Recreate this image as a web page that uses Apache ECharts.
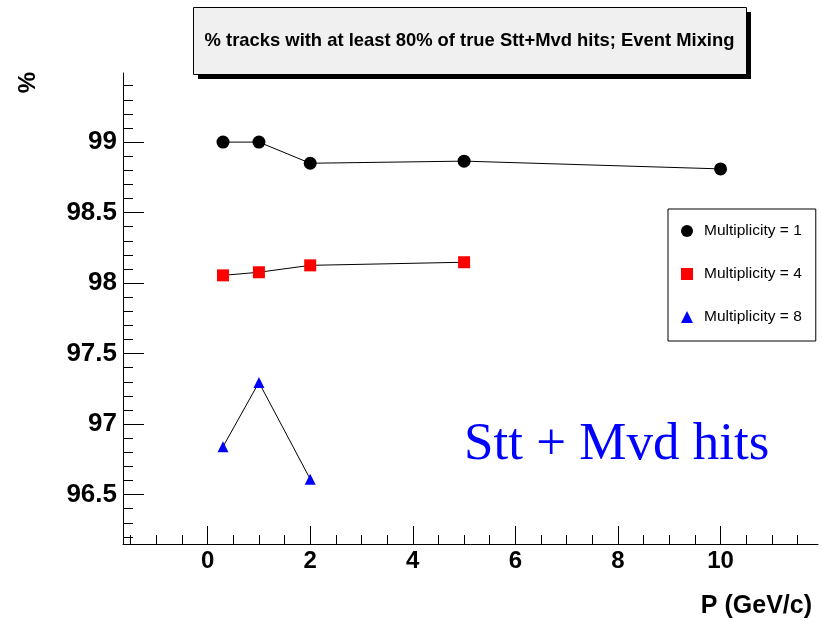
<!DOCTYPE html>
<html>
<head>
<meta charset="utf-8">
<script src="https://cdn.jsdelivr.net/npm/echarts@6/dist/echarts.min.js"></script>
<style>html,body{margin:0;padding:0;background:#fff}#c{width:822px;height:621px}</style>
</head>
<body>
<div id="c"></div>
<script>
// ---- data ----
const seriesNames = ['Multiplicity = 1', 'Multiplicity = 4', 'Multiplicity = 8'];
const pMult1 = [0.3, 1, 2, 5, 10];
const vMult1 = [99.0, 99.0, 98.85, 98.865, 98.81];
const pMult4 = [0.3, 1, 2, 5];
const vMult4 = [98.055, 98.077, 98.126, 98.148];
const pMult8 = [0.3, 1, 2];
const vMult8 = [96.84, 97.296, 96.61];
const xTicks = [0, 2, 4, 6, 8, 10];
const yTicks = [96.5, 97, 97.5, 98, 98.5, 99];
const titleText = '% tracks with at least 80% of true Stt+Mvd hits; Event Mixing';
const xName = 'P (GeV/c)';
const yName = '%';
const annot = 'Stt + Mvd hits';

const xMin = -1.65, xMax = 11.9, yMin = 96.15, yMax = 99.49;
const xMinor = []; for (let v = -1.5; v <= 11.5 + 1e-9; v += 0.5) xMinor.push(+v.toFixed(2));
const yMinor = []; for (let v = 96.2; v <= 99.4 + 1e-9; v += 0.1) yMinor.push(+v.toFixed(2));

const pairs = (xs, ys) => xs.map((x, i) => [x, ys[i]]);
const font = 'Liberation Sans, Arial, Helvetica, sans-serif';

const chart = echarts.init(document.getElementById('c'), null, {renderer: 'canvas'});
const lineSt = {color: '#000', width: 1};
chart.setOption({
  animation: false,
  backgroundColor: '#fff',
  grid: {left: 123, right: 4, top: 73, bottom: 77, containLabel: false},
  title: [{
    text: titleText, left: 469.5, textAlign: 'center', top: 31, padding: 0, z: 10,
    textStyle: {fontFamily: font, fontWeight: 'bold', fontSize: 18.4, lineHeight: 19, color: '#000'}
  }, {
    text: annot, left: 464, top: 419, padding: 0,
    textStyle: {fontFamily: 'Liberation Serif, Times New Roman, serif', fontWeight: 'normal', fontSize: 53, color: '#0000ff'}
  }],
  legend: {
    orient: 'vertical', left: 668, top: 209,
    padding: [14, 14, 16, 13], itemGap: 27,
    itemWidth: 12, itemHeight: 12,
    backgroundColor: '#fff', borderColor: '#000', borderWidth: 1,
    textStyle: {fontFamily: font, fontSize: 15.5, color: '#000', padding: [0, 0, 0, 6], lineHeight: 16},
    data: [
      {name: seriesNames[0], icon: 'circle'},
      {name: seriesNames[1], icon: 'rect'},
      {name: seriesNames[2], icon: 'triangle'}
    ]
  },
  xAxis: [
    {type: 'value', min: xMin, max: xMax, position: 'bottom', splitLine: {show: false},
     axisLine: {show: true, onZero: false, lineStyle: lineSt},
     axisTick: {show: true, inside: true, length: 18, customValues: xTicks, lineStyle: lineSt},
     axisLabel: {show: true, customValues: xTicks, margin: 5, fontFamily: font, fontWeight: 'bold', fontSize: 24, color: '#000'}},
    {type: 'value', min: xMin, max: xMax, position: 'bottom', splitLine: {show: false},
     axisLine: {show: false, onZero: false},
     axisTick: {show: true, inside: true, length: 9, customValues: xMinor, lineStyle: lineSt},
     axisLabel: {show: false}}
  ],
  yAxis: [
    {type: 'value', min: yMin, max: yMax, position: 'left', splitLine: {show: false},
     axisLine: {show: true, onZero: false, lineStyle: lineSt},
     axisTick: {show: true, inside: true, length: 21, customValues: yTicks, lineStyle: lineSt},
     axisLabel: {show: true, customValues: yTicks, margin: 6, fontFamily: font, fontWeight: 'bold', fontSize: 26, color: '#000'}},
    {type: 'value', min: yMin, max: yMax, position: 'left', splitLine: {show: false},
     axisLine: {show: false, onZero: false},
     axisTick: {show: true, inside: true, length: 10, customValues: yMinor, lineStyle: lineSt},
     axisLabel: {show: false}}
  ],
  graphic: [
    {type: 'rect', left: 198, top: 12, z: 1, silent: true,
     shape: {width: 553, height: 67}, style: {fill: '#000'}},
    {type: 'rect', left: 193, top: 7, z: 2, silent: true,
     shape: {width: 553, height: 67}, style: {fill: '#f0f0f0', stroke: '#000', lineWidth: 1}},
    {type: 'text', left: 16, top: 72, rotation: Math.PI / 2,
     style: {text: yName, fontFamily: font, fontWeight: 'bold', fontSize: 24, fill: '#000'}},
    {type: 'text', right: 10, top: 594,
     style: {text: xName, fontFamily: font, fontWeight: 'bold', fontSize: 25, fill: '#000'}}
  ],
  series: [
    {name: seriesNames[0], type: 'line', data: pairs(pMult1, vMult1), symbol: 'circle', symbolSize: 13,
     itemStyle: {color: '#000'}, lineStyle: lineSt, z: 3},
    {name: seriesNames[1], type: 'line', data: pairs(pMult4, vMult4), symbol: 'rect', symbolSize: 12,
     itemStyle: {color: '#ff0000'}, lineStyle: lineSt, z: 3},
    {name: seriesNames[2], type: 'line', data: pairs(pMult8, vMult8), symbol: 'triangle', symbolSize: 11,
     itemStyle: {color: '#0000ff'}, lineStyle: lineSt, z: 3}
  ]
});
</script>
</body>
</html>
